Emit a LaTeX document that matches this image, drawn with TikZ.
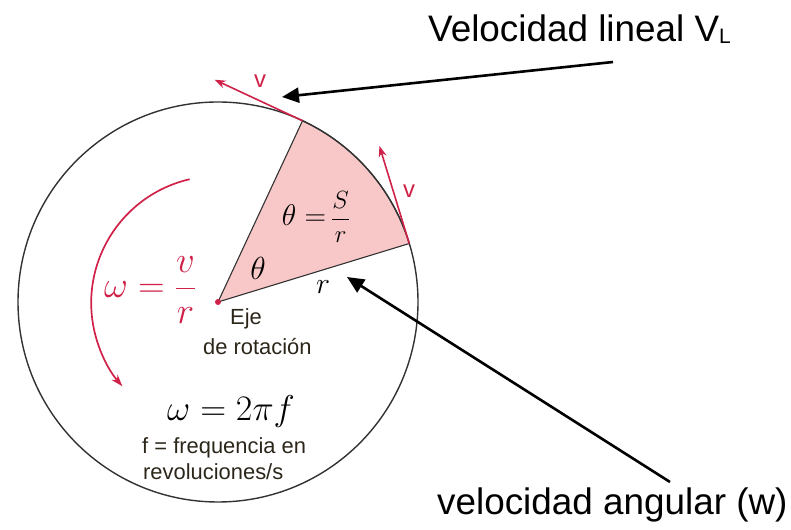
\RequirePackage{fix-cm}
\documentclass[tikz,border=0pt]{standalone}
\usepackage{amsmath}
\usepackage{fontspec}
\newfontfamily\arialf{Liberation Sans}
\usepackage{tikz}
\usetikzlibrary{arrows.meta,calc}
\definecolor{crim}{RGB}{208,34,72}
\definecolor{sectpink}{RGB}{248,200,200}
\definecolor{ink}{RGB}{44,38,26}
\definecolor{rimgray}{RGB}{50,50,50}
\tikzset{
  rim/.style={rimgray,line width=1.4bp},
  sect/.style={fill=sectpink,draw=rimgray,line width=1.1bp},
  varr/.style={crim,line width=1.6bp,-{Stealth[length=11bp,width=8bp]}},
  warr/.style={crim,line width=1.7bp,-{Stealth[length=12bp,width=8bp]}},
  callout/.style={black,line width=2.6bp,-{Triangle[length=17bp,width=15bp]}},
  mlab/.style={inner sep=0pt},
  slab/.style={inner sep=0pt,anchor=base west,ink,font=\arialf\fontsize{22}{22}\selectfont},
  blab/.style={inner sep=0pt,anchor=base west,font=\arialf\fontsize{37}{37}\selectfont},
  vlab/.style={inner sep=0pt,crim,font=\arialf\fontsize{24}{24}\selectfont}
}

\begin{document}
\begin{tikzpicture}[x=1bp,y=1bp]
    \useasboundingbox (0,0) rectangle (791,530);
    \coordinate (C) at (218,228);
    \draw[sect] (C) -- ($(C)+(17:200)$) arc[start angle=17,end angle=65,radius=200] -- cycle;
    \draw[rim] (C) circle (200);
    \fill[crim] (C) circle (3);
    % velocity vectors
    \coordinate (P1) at ($(C)+(65:200)$);
    \coordinate (P2) at ($(C)+(17:200)$);
    \coordinate (V1) at ($(P1)+(155:97)$);
    \coordinate (V2) at ($(P2)+(107:102)$);
    \draw[varr] (P1) -- (V1);
    \draw[varr] (P2) -- (V2);
    \node[vlab] (v1) at (260,449) {v};
    \node[vlab] (v2) at (409,339) {v};
    % rotation sense
    \coordinate (W0) at ($(C)+(103:126)$);
    \draw[warr] (W0) arc[start angle=103,end angle=221,radius=127];
    % formulas
    \node[mlab,crim,font=\fontsize{37}{37}\selectfont] (wvr) at (150,240) {$\omega=\dfrac{v}{r}$};
    \node[mlab,font=\fontsize{30}{30}\selectfont] (tsr) at (316,313) {$\theta=$\,{\fontsize{25}{25}\selectfont$\dfrac{S}{r}$}};
    \node[mlab,font=\fontsize{32}{32}\selectfont] (th) at (258,262) {$\theta$};
    \node[mlab,font=\fontsize{30}{30}\selectfont] (rr) at (323,243) {$r$};
    \node[mlab,font=\fontsize{36}{36}\selectfont] (w2pf) at (231,118) {$\omega=2\pi f$};
    \node[slab] (eje) at (230,205) {Eje};
    \node[slab] (rot) at (203,175) {de rotación};
    \node[slab] (freq) at (142,76) {f = frequencia en};
    \node[slab] (revs) at (143,50) {revoluciones/s};
    % callouts
    \node[blab] (vl) at (428,488) {Velocidad lineal V\raisebox{-2bp}{\fontsize{21}{21}\selectfont L}};
    \node[blab] (va) at (437,15) {velocidad angular (w)};
    \coordinate (vlT) at (613,468);
    \coordinate (vlH) at (282,433);
    \coordinate (vaT) at (670,48);
    \coordinate (vaH) at (347,253);
    \draw[callout] (vlT) -- (vlH);
    \draw[callout] (vaT) -- (vaH);
\end{tikzpicture}
\end{document}
